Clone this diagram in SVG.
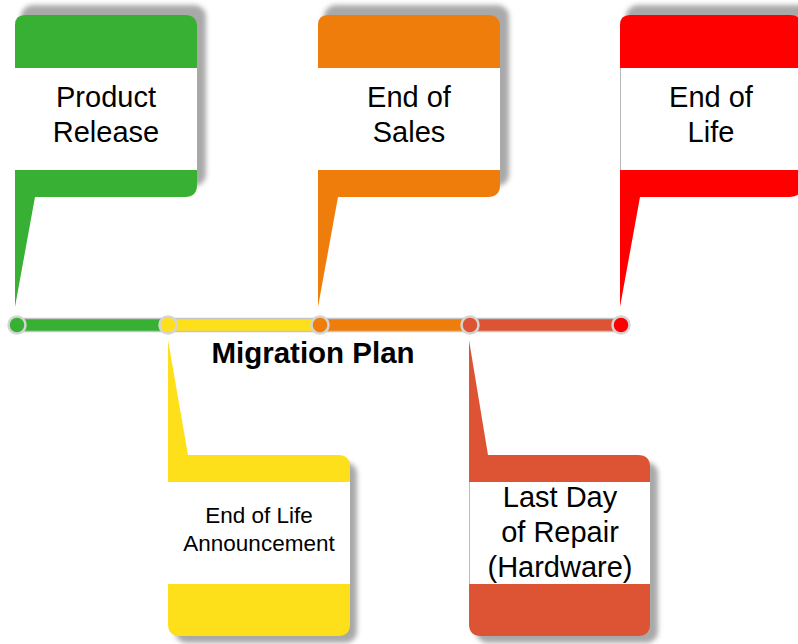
<svg xmlns="http://www.w3.org/2000/svg" width="798" height="644" viewBox="0 0 798 644">
<defs>
<filter id="blur" x="-10%" y="-10%" width="120%" height="120%"><feGaussianBlur stdDeviation="2.5"/></filter>
<style>
.sh{fill:#a9a9a9;filter:url(#blur)}
.band{fill:#ffffff}
.t{font-family:"Liberation Sans",Arial,sans-serif;fill:#000;text-anchor:middle}
.big{font-size:29px}
.small{font-size:22.5px}
.title{font-family:"Liberation Sans",Arial,sans-serif;font-size:29.5px;font-weight:bold;fill:#000;text-anchor:middle}
.bar{stroke:#c4c4c4;stroke-width:1.5}
.dot{stroke:#d4d4d4;stroke-width:2.5}
</style>
</defs>
<rect width="798" height="644" fill="#ffffff"/>

<g id="timeline">
<rect class="bar" x="20" y="318.5" width="145" height="13" fill="#38b034"/>
<rect class="bar" x="171" y="318.5" width="146" height="13" fill="#fde01a"/>
<rect class="bar" x="323" y="318.5" width="144" height="13" fill="#ef7d0b"/>
<rect class="bar" x="473" y="318.5" width="145" height="13" fill="#dd5435"/>
<circle class="dot" cx="17" cy="325" r="8.5" fill="#38b034"/>
<circle class="dot" cx="168" cy="325" r="8.5" fill="#fde01a"/>
<circle class="dot" cx="320" cy="325" r="8.5" fill="#ef7d0b"/>
<circle class="dot" cx="470" cy="325" r="8.5" fill="#dd5435"/>
<circle class="dot" cx="621" cy="325" r="8.5" fill="#fe0000"/>
</g>

<g id="title">
<text class="title" x="313" y="363">Migration Plan</text>
</g>

<g id="node-product-release">
<rect class="sh" x="21" y="5" width="185" height="181" rx="12"/>
<path d="M15,25 Q15,15 25,15 H185 Q197,15 197,27 V185 Q197,197 185,197 H35 L15,307 Z" fill="#38b034"/>
<rect class="band" x="15" y="68" width="182" height="102"/>
<text class="t big" x="106" y="107">Product</text>
<text class="t big" x="106" y="142">Release</text>
</g>

<g id="node-end-of-sales">
<rect class="sh" x="324" y="5" width="185" height="181" rx="12"/>
<path d="M318,25 Q318,15 328,15 H488 Q500,15 500,27 V185 Q500,197 488,197 H338 L318,307 Z" fill="#ef7d0b"/>
<rect class="band" x="318" y="68" width="182" height="102"/>
<text class="t big" x="409" y="107">End of</text>
<text class="t big" x="409" y="142">Sales</text>
</g>

<g id="node-end-of-life">
<rect class="sh" x="626" y="5" width="185" height="181" rx="12"/>
<path d="M620,25 Q620,15 630,15 H790 Q802,15 802,27 V185 Q802,197 790,197 H640 L620,307 Z" fill="#fe0000"/>
<rect class="band" x="620" y="68" width="182" height="102"/>
<line x1="620.5" y1="68" x2="620.5" y2="170" stroke="#bbbbbb" stroke-width="1"/>
<text class="t big" x="711" y="107">End of</text>
<text class="t big" x="711" y="142">Life</text>
</g>

<g id="node-eol-announcement">
<rect class="sh" x="175" y="462" width="182" height="181" rx="12"/>
<path d="M168,340 L188,455 H338 Q350,455 350,467 V624 Q350,636 338,636 H180 Q168,636 168,624 Z" fill="#fde01a"/>
<rect class="band" x="168" y="482" width="182" height="102"/>
<text class="t small" x="259" y="523">End of Life</text>
<text class="t small" x="259" y="551">Announcement</text>
</g>

<g id="node-last-day-repair">
<rect class="sh" x="476" y="462" width="182" height="181" rx="12"/>
<path d="M469,340 L488,455 H638 Q650,455 650,467 V624 Q650,636 638,636 H481 Q469,636 469,624 Z" fill="#dd5435"/>
<rect class="band" x="469" y="482" width="181" height="102"/>
<line x1="469.5" y1="482" x2="469.5" y2="584" stroke="#bbbbbb" stroke-width="1"/>
<text class="t big" x="560" y="507">Last Day</text>
<text class="t big" x="560" y="542">of Repair</text>
<text class="t big" x="560" y="577">(Hardware)</text>
</g>
</svg>
